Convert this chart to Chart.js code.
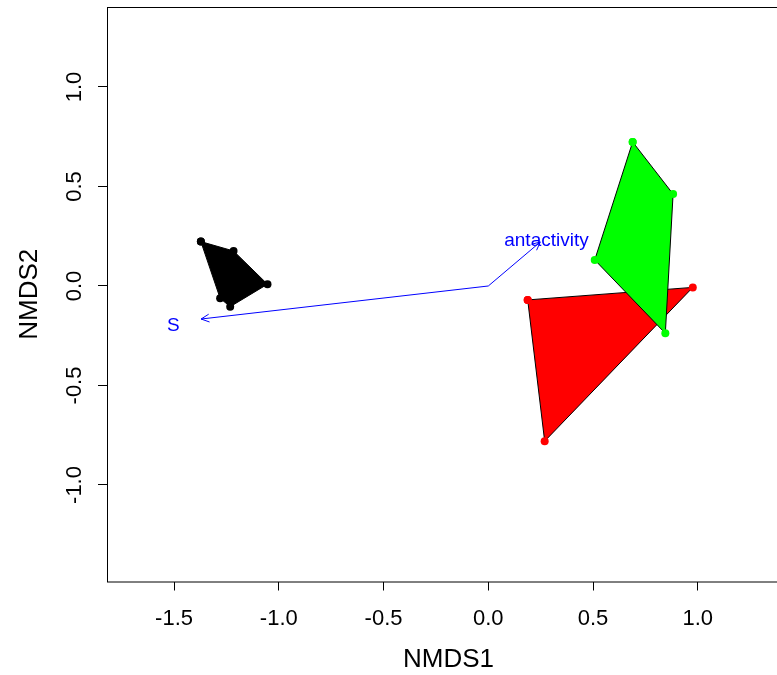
<!DOCTYPE html>
<html>
<head>
<meta charset="utf-8">
<script src="https://cdn.jsdelivr.net/npm/chart.js@4/dist/chart.umd.min.js"></script>
<style>
  html, body { margin: 0; padding: 0; overflow: hidden; background: #fff; }
</style>
</head>
<body>
<canvas id="nmds" width="800" height="675"></canvas>
<script>
// hull vertices of each group (NMDS site scores)
const grp1X = [-1.372, -1.216, -1.054, -1.232, -1.280];
const grp1Y = [0.223, 0.176, 0.009, -0.104, -0.062];
const grp2X = [0.188, 0.976, 0.269];
const grp2Y = [-0.070, -0.007, -0.780];
const grp3X = [0.689, 0.882, 0.845, 0.508];
const grp3Y = [0.724, 0.462, -0.238, 0.131];

// fitted vectors (envfit)
const vecNames = ['antactivity', 'S'];
const vecX = [0.248, -1.371];
const vecY = [0.221, -0.166];

const xTicks = [-1.5, -1.0, -0.5, 0.0, 0.5, 1.0];
const yTicks = [-1.0, -0.5, 0.0, 0.5, 1.0];

const FONT = '"Liberation Sans", Arial, sans-serif';

function hull(xs, ys) {
  const pts = xs.map((x, i) => ({x: x, y: ys[i]}));
  pts.push({x: xs[0], y: ys[0]});
  return pts;
}

function polySet(xs, ys, col, ord) {
  return {
    data: hull(xs, ys),
    showLine: true,
    fill: 'shape',
    backgroundColor: col,
    borderColor: '#000',
    borderWidth: 1,
    pointRadius: 4,
    pointBackgroundColor: col,
    pointBorderColor: col,
    pointBorderWidth: 0,
    tension: 0,
    order: ord
  };
}

const arrowSets = vecX.map((vx, i) => ({
  data: [{x: 0, y: 0}, {x: vx, y: vecY[i]}],
  showLine: true,
  fill: false,
  borderColor: '#0000ff',
  borderWidth: 1,
  pointRadius: 0,
  order: 3
}));

// arrow heads, vector labels, y tick labels and the box
const extras = {
  id: 'extras',
  afterDatasetsDraw(chart) {
    const {ctx, scales: {x, y}} = chart;
    ctx.save();
    ctx.strokeStyle = '#0000ff';
    ctx.fillStyle = '#0000ff';
    ctx.lineWidth = 1;
    const x0 = x.getPixelForValue(0), y0 = y.getPixelForValue(0);
    vecX.forEach((vx, i) => {
      const px = x.getPixelForValue(vx), py = y.getPixelForValue(vecY[i]);
      const ang = Math.atan2(py - y0, px - x0);
      const len = 9;
      ctx.beginPath();
      ctx.moveTo(px - len * Math.cos(ang - 0.45), py - len * Math.sin(ang - 0.45));
      ctx.lineTo(px, py);
      ctx.lineTo(px - len * Math.cos(ang + 0.45), py - len * Math.sin(ang + 0.45));
      ctx.stroke();
      ctx.font = '19px ' + FONT;
      ctx.textAlign = 'center';
      ctx.textBaseline = 'middle';
      ctx.fillText(vecNames[i], x.getPixelForValue(vx * 1.1) + 1, y.getPixelForValue(vecY[i] * 1.1) + 3);
    });
    ctx.restore();
  },
  afterDraw(chart) {
    const {ctx, chartArea: a, scales: {y}} = chart;
    ctx.save();
    ctx.strokeStyle = '#000';
    ctx.lineWidth = 1;
    ctx.strokeRect(Math.round(a.left) + 0.5, Math.round(a.top) + 0.5, a.right - a.left, a.bottom - a.top);
    ctx.fillStyle = '#000';
    ctx.font = '22px ' + FONT;
    ctx.textAlign = 'center';
    ctx.textBaseline = 'middle';
    yTicks.forEach(v => {
      ctx.save();
      ctx.translate(75, y.getPixelForValue(v));
      ctx.rotate(-Math.PI / 2);
      ctx.fillText(v.toFixed(1), 0, 0);
      ctx.restore();
    });
    ctx.restore();
  }
};

new Chart(document.getElementById('nmds').getContext('2d'), {
  type: 'line',
  data: {
    datasets: [
      polySet(grp3X, grp3Y, '#00ff00', 0),
      polySet(grp2X, grp2Y, '#ff0000', 1),
      polySet(grp1X, grp1Y, '#000000', 2)
    ].concat(arrowSets)
  },
  options: {
    responsive: false,
    animation: false,
    devicePixelRatio: 1,
    layout: { padding: { top: 7, right: 10, left: 0, bottom: 0 } },
    plugins: {
      legend: { display: false },
      tooltip: { enabled: false }
    },
    scales: {
      x: {
        type: 'linear',
        min: -1.82,
        max: 1.44,
        afterBuildTicks: s => { s.ticks = xTicks.map(v => ({value: v})); },
        afterFit: s => { s.height = 93.5; },
        grid: { drawOnChartArea: false, drawTicks: true, tickLength: 9, color: '#000' },
        border: { display: false },
        ticks: {
          font: { family: FONT, size: 22 },
          color: '#000',
          padding: 15,
          maxRotation: 0,
          callback: v => v.toFixed(1)
        },
        title: {
          display: true,
          text: 'NMDS1',
          color: '#000',
          font: { family: FONT, size: 26 },
          padding: { top: 0, bottom: 0 }
        }
      },
      y: {
        type: 'linear',
        min: -1.485,
        max: 1.402,
        afterBuildTicks: s => { s.ticks = yTicks.map(v => ({value: v})); },
        afterFit: s => { s.width = 107; },
        grid: { drawOnChartArea: false, drawTicks: true, tickLength: 9, color: '#000' },
        border: { display: false },
        ticks: { display: false },
        title: {
          display: true,
          text: 'NMDS2',
          color: '#000',
          font: { family: FONT, size: 26 },
          padding: { top: 14, bottom: 0 }
        }
      }
    }
  },
  plugins: [extras]
});
</script>
</body>
</html>
